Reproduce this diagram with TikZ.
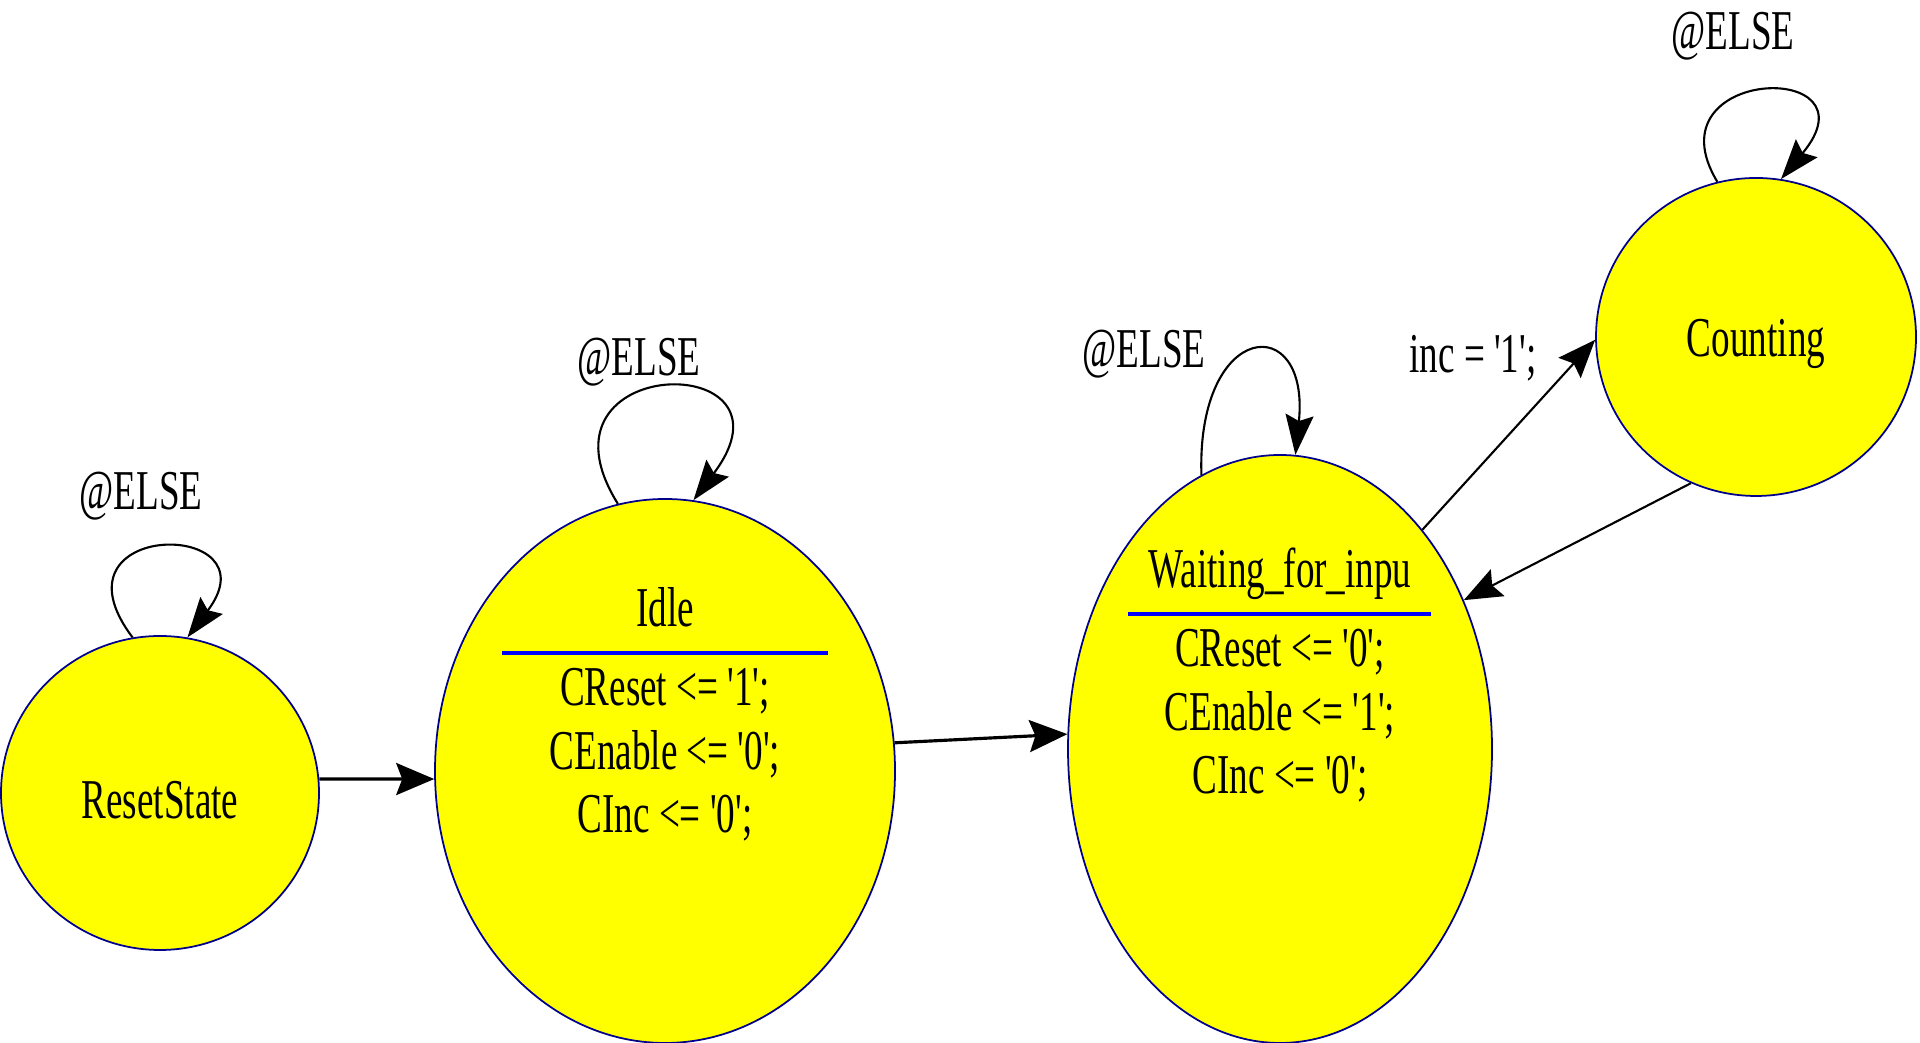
\documentclass[tikz,border=0pt]{standalone}
\usepackage{fontspec}
\setmainfont{Liberation Serif}
\newfontfamily\fsmfont[FakeStretch=0.66,Ligatures=TeXOff]{Liberation Serif}
\usepackage{tikz}
\usetikzlibrary{shapes.geometric,arrows.meta,calc}

\definecolor{stateyellow}{RGB}{255,255,0}
\definecolor{stateline}{RGB}{0,0,140}
\definecolor{ruleblue}{RGB}{0,0,255}

\begin{document}
\begin{tikzpicture}[
  state/.style={
    ellipse,
    draw=stateline,
    line width=0.5pt,
    fill=stateyellow,
    inner sep=0pt,
    text height=0.52cm,
    font=\fsmfont\fontsize{16}{18.2}\selectfont
  },
  txt/.style={
    font=\fsmfont\fontsize{16}{18.2}\selectfont,
    align=center,
    inner sep=0pt,
    anchor=base
  },
  titlerule/.style={
    draw=ruleblue,
    line width=1.1pt
  },
  selfloop/.style={
    line width=0.6pt,
    -{Stealth[length=0.4cm,width=0.28cm,inset=0.06cm]}
  },
  flow/.style={
    line width=0.9pt,
    -{Stealth[length=0.38cm,width=0.32cm,inset=0.06cm]}
  },
  thinflow/.style={
    line width=0.6pt,
    -{Stealth[length=0.38cm,width=0.3cm,inset=0.06cm]}
  }
]
 \useasboundingbox (0,0) rectangle (19.2,10.43);

 %states
 \node[state, minimum width=3.18cm, minimum height=3.14cm] (reset) at (1.60,2.50) {ResetState};
 \node[state, minimum width=4.60cm, minimum height=5.44cm] (idle) at (6.65,2.72) {};
 \node[state, minimum width=4.24cm, minimum height=5.88cm] (wait) at (12.80,2.94) {};
 \node[state, minimum width=3.20cm, minimum height=3.18cm] (count) at (17.56,7.06) {Counting};

 %idle: name and actions (base = last line)
 \node[txt] (idlename) at ($(idle)+(0,1.44)$) {Idle};
 \draw[titlerule] ($(idle)+(-1.63,1.18)$) -- ($(idle)+(1.63,1.18)$);
 \node[txt] (idleacts) at ($(idle)+(0,-0.62)$) {CReset <= '1';\\CEnable <= '0';\\CInc <= '0';};

 %waiting: name and actions
 \node[txt] (waitname) at ($(wait)+(0,1.61)$) {Waiting\_for\_inpu};
 \draw[titlerule] ($(wait)+(-1.52,1.35)$) -- ($(wait)+(1.51,1.35)$);
 \node[txt] (waitacts) at ($(wait)+(0,-0.45)$) {CReset <= '0';\\CEnable <= '1';\\CInc <= '0';};

 %self loops
 \draw[selfloop] (reset.100) .. controls +(-0.9,1.19) and +(0.9,1.19) .. (reset.80);
 \draw[selfloop] (idle.100) .. controls +(-0.95,1.52) and +(1.15,1.52) .. (idle.84);
 \draw[selfloop] (wait.106) .. controls +(-0.05,1.55) and +(0.15,1.45) .. (wait.87);
 \draw[selfloop] (count.104) .. controls +(-0.7,1.16) and +(1.0,1.2) .. (count.81);

 %loop conditions
 \node[txt] (resetelse) at ($(reset)+(-0.19,2.83)$) {@ELSE};
 \node[txt] (idleelse) at ($(idle)+(-0.26,3.95)$) {@ELSE};
 \node[txt] (waitelse) at ($(wait)+(-1.36,3.81)$) {@ELSE};
 \node[txt] (countelse) at ($(count)+(-0.23,2.87)$) {@ELSE};

 %transitions
 \draw[flow] (reset.5) -- (idle.182);
 \draw[flow] (idle.7) -- (wait.176);
 \draw[thinflow] (wait.57) -- (count.181);
 \draw[thinflow] (count.246) -- (wait.39);

 %transition condition
 \node[txt] (inclabel) at ($(count)+(-2.83,-0.36)$) {inc = '1';};
\end{tikzpicture}
\end{document}
